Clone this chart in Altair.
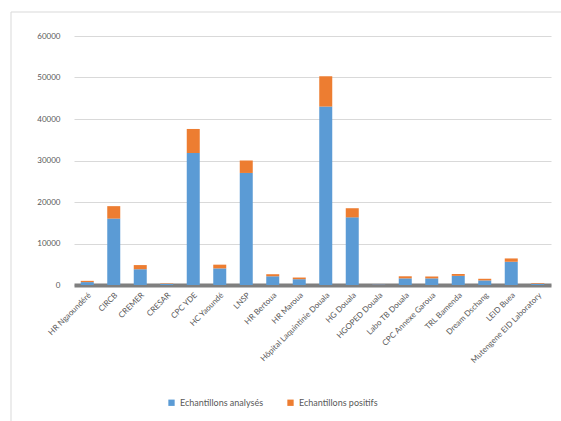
import altair as alt
import pandas as pd

categories = ["HR Ngaoundéré", "CIRCB", "CREMER", "CRESAR", "CPC YDE", "HC Yaoundé",
              "LNSP", "HR Bertoua", "HR Maroua", "Hôpital Laquintinie Douala",
              "HG Douala", "HGOPED Douala", "Labo TB Douala", "CPC Annexe Garoua",
              "TRL Bamenda", "Dream Dschang", "LEID Buea", "Mutengene EID Laboratory"]
analyses = [700, 16000, 3800, 250, 31800, 4000, 27000, 2100, 1400, 43000,
            16300, 150, 1600, 1600, 2200, 1100, 5600, 300]
positifs = [300, 3000, 1000, 100, 5800, 900, 3000, 500, 400, 7300,
            2200, 50, 500, 450, 450, 400, 800, 150]
series = ["Echantillons analysés", "Echantillons positifs"]
y_ticks = [0, 10000, 20000, 30000, 40000, 50000, 60000]

rows = []
for c, a, p in zip(categories, analyses, positifs):
    rows.append({"site": c, "serie": series[0], "valeur": a, "ordre": 0})
    rows.append({"site": c, "serie": series[1], "valeur": p, "ordre": 1})
df = pd.DataFrame(rows)

FONT = "Lato"

bars = alt.Chart(df).mark_bar(size=13).encode(
    x=alt.X("site:N", sort=categories, title=None,
            scale=alt.Scale(paddingInner=0.5, paddingOuter=0.25),
            axis=alt.Axis(labelAngle=-45, labelAlign="right", labelBaseline="top",
                          labelFontSize=8, labelColor="#595959", labelFont=FONT,
                          ticks=False, domainColor="#7f7f7f", domainWidth=4,
                          labelPadding=6)),
    y=alt.Y("valeur:Q", stack="zero", title=None,
            scale=alt.Scale(domain=[0, 60000]),
            axis=alt.Axis(values=y_ticks, format="d", labelFontSize=8, labelColor="#595959",
                          labelFont=FONT, ticks=False, domain=False, labelPadding=14,
                          gridColor="#d9d9d9", gridWidth=1)),
    color=alt.Color("serie:N", title=None, sort=series,
                    scale=alt.Scale(domain=series, range=["#5B9BD5", "#ED7D31"]),
                    legend=alt.Legend(orient="none", legendX=93, legendY=362,
                                      direction="horizontal", symbolType="square",
                                      symbolSize=40, labelFontSize=9, labelColor="#595959",
                                      labelFont=FONT, columnPadding=22)),
    order=alt.Order("ordre:Q", sort="ascending"),
)

frame_top = alt.Chart(pd.DataFrame({"k": [0]})).mark_rule(color="#d9d9d9", strokeWidth=1).encode(
    x=alt.value(-63), x2=alt.value(500), y=alt.value(-24))
frame_left = alt.Chart(pd.DataFrame({"k": [0]})).mark_rule(color="#d9d9d9", strokeWidth=1).encode(
    x=alt.value(-63), y=alt.value(-24), y2=alt.value(400))

chart = alt.layer(frame_top, frame_left, bars).properties(
    width=477, height=249,
    autosize=alt.AutoSizeParams(type="none"),
    padding={"left": 74, "top": 36, "right": 10, "bottom": 136},
    background="white",
).configure_view(stroke=None)

chart.save("out.html", embed_options={"renderer": "svg", "actions": False})
